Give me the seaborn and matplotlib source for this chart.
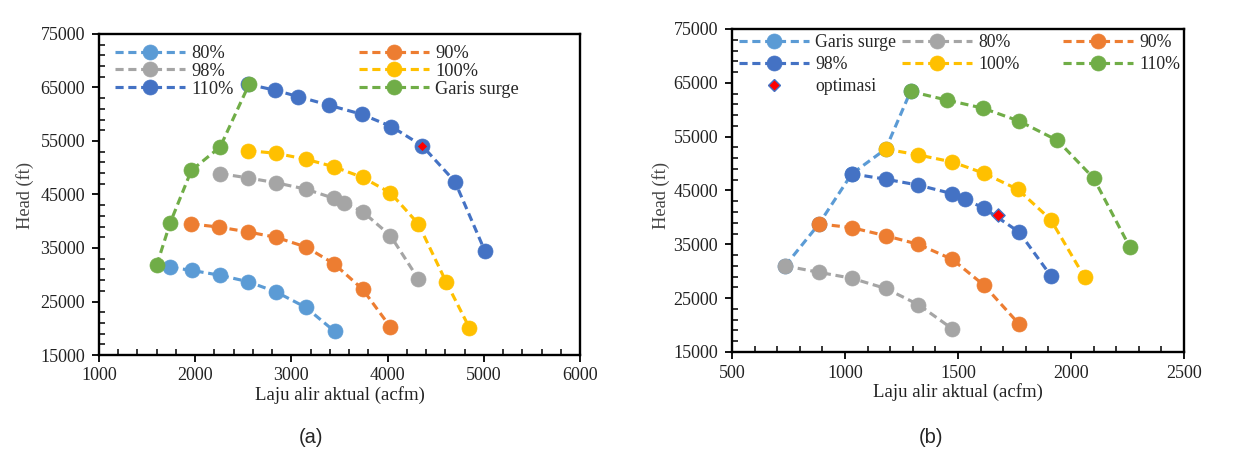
import numpy as np
import pandas as pd
import seaborn as sns
import matplotlib
matplotlib.use("Agg")
import matplotlib.pyplot as plt
from matplotlib.ticker import MultipleLocator, FixedLocator

# ---------------- data: panel (a) ----------------
a_80_x = [1740, 1970, 2260, 2550, 2840, 3150, 3450]
a_80_y = [31400, 30800, 29900, 28700, 26800, 23900, 19400]
a_90_x = [1960, 2250, 2550, 2840, 3150, 3440, 3740, 4030]
a_90_y = [39500, 38900, 38000, 37000, 35200, 32100, 27300, 20200]
a_98_x = [2260, 2550, 2840, 3150, 3440, 3550, 3740, 4030, 4320]
a_98_y = [48900, 48100, 47200, 46000, 44300, 43400, 41800, 37300, 29200]
a_100_x = [2550, 2840, 3150, 3440, 3740, 4030, 4320, 4610, 4850]
a_100_y = [53200, 52700, 51600, 50200, 48200, 45300, 39500, 28600, 20100]
a_110_x = [2550, 2830, 3070, 3390, 3730, 4040, 4360, 4700, 5010]
a_110_y = [65600, 64500, 63300, 61700, 60000, 57700, 54100, 47400, 34500]
a_surge_x = [1600, 1740, 1960, 2260, 2560]
a_surge_y = [31800, 39700, 49500, 53900, 65600]
a_opt_x = [4360]
a_opt_y = [54100]

# ---------------- data: panel (b) ----------------
b_surge_x = [735, 885, 1030, 1180, 1290]
b_surge_y = [31000, 38800, 48100, 52700, 63400]
b_80_x = [735, 885, 1030, 1180, 1325, 1475]
b_80_y = [31000, 29800, 28700, 26800, 23800, 19300]
b_90_x = [885, 1030, 1180, 1325, 1475, 1615, 1770]
b_90_y = [38800, 38100, 36600, 35000, 32200, 27400, 20200]
b_98_x = [1030, 1180, 1325, 1475, 1530, 1615, 1770, 1910]
b_98_y = [48100, 47100, 46000, 44400, 43400, 41700, 37300, 29200]
b_100_x = [1180, 1325, 1475, 1615, 1765, 1910, 2060]
b_100_y = [52700, 51600, 50300, 48200, 45200, 39600, 28900]
b_110_x = [1290, 1450, 1610, 1770, 1940, 2100, 2260]
b_110_y = [63400, 61800, 60300, 57900, 54300, 47300, 34500]
b_opt_x = [1675]
b_opt_y = [40500]

y_ticks = [15000, 25000, 35000, 45000, 55000, 65000, 75000]

C_LBLUE = "#5B9BD5"
C_ORANGE = "#ED7D31"
C_GRAY = "#A5A5A5"
C_YELLOW = "#FFC000"
C_DBLUE = "#4472C4"
C_GREEN = "#70AD47"

sns.set_style("ticks")
plt.rcParams["font.family"] = ["Liberation Serif", "DejaVu Serif"]

W, H = 1255, 461
fig = plt.figure(figsize=(W / 100, H / 100), dpi=100)


def fx(px):
    return px / W


def fy(py):
    return 1 - py / H


axa = fig.add_axes([fx(99), fy(355), fx(580) - fx(99), fy(34) - fy(355)])
axb = fig.add_axes([fx(732), fy(352), fx(1184) - fx(732), fy(29) - fy(352)])

LW = 2.25
MS = 10.8
DASH = (2.6, 1.5)


def series(ax, x, y, color, label):
    sns.lineplot(x=x, y=y, ax=ax, color=color, label=label, sort=False,
                 marker="o", markersize=MS, markeredgecolor=color,
                 markeredgewidth=0.5, linewidth=LW, dashes=False,
                 linestyle=(0, DASH), estimator=None)
    ln = ax.lines[-1]
    ln.set_linestyle((0, DASH))
    return ln


# panel (a)
ha80 = series(axa, a_80_x, a_80_y, C_LBLUE, "80%")
ha90 = series(axa, a_90_x, a_90_y, C_ORANGE, "90%")
ha98 = series(axa, a_98_x, a_98_y, C_GRAY, "98%")
ha100 = series(axa, a_100_x, a_100_y, C_YELLOW, "100%")
ha110 = series(axa, a_110_x, a_110_y, C_DBLUE, "110%")
hasurge = series(axa, a_surge_x, a_surge_y, C_GREEN, "Garis surge")
sns.scatterplot(x=a_opt_x, y=a_opt_y, ax=axa, marker="D", s=22, color="red",
                edgecolor="red", linewidth=0, zorder=5)

# panel (b)
hbsurge = series(axb, b_surge_x, b_surge_y, C_LBLUE, "Garis surge")
hb80 = series(axb, b_80_x, b_80_y, C_GRAY, "80%")
hb90 = series(axb, b_90_x, b_90_y, C_ORANGE, "90%")
hb98 = series(axb, b_98_x, b_98_y, C_DBLUE, "98%")
hb100 = series(axb, b_100_x, b_100_y, C_YELLOW, "100%")
hb110 = series(axb, b_110_x, b_110_y, C_GREEN, "110%")
sns.scatterplot(x=b_opt_x, y=b_opt_y, ax=axb, marker="D", s=45, color="red",
                edgecolor=C_DBLUE, linewidth=1.0, zorder=5)
hbopt = plt.Line2D([], [], linestyle="none", marker="D", markersize=6.5,
                   markerfacecolor="red", markeredgecolor=C_DBLUE,
                   markeredgewidth=1.0)

for ax in (axa, axb):
    lg = ax.get_legend()
    if lg is not None:
        lg.remove()

# axes styling
axa.set_xlim(1000, 6000)
axa.xaxis.set_major_locator(MultipleLocator(1000))
axa.xaxis.set_minor_locator(MultipleLocator(200))
axb.set_xlim(500, 2500)
axb.xaxis.set_major_locator(MultipleLocator(500))
axb.xaxis.set_minor_locator(MultipleLocator(100))
for ax in (axa, axb):
    ax.set_ylim(15000, 75000)
    ax.yaxis.set_major_locator(FixedLocator(y_ticks))
    ax.yaxis.set_minor_locator(MultipleLocator(2000, offset=1000))
    for s in ax.spines.values():
        s.set_visible(True)
        s.set_linewidth(1.7)
        s.set_color("black")
    ax.tick_params(which="major", direction="out", length=5, width=1.3,
                   labelsize=13, colors="#222222")
    ax.tick_params(axis="x", which="major", pad=4)
    ax.tick_params(axis="y", which="major", pad=5)
    ax.tick_params(which="minor", direction="in", length=4, width=1.1,
                   colors="black")
    ax.tick_params(which="both", color="black")
    ax.set_xlabel("Laju alir aktual (acfm)", fontsize=13.5, labelpad=1,
                  color="#222222")
    ax.set_ylabel("")
    ax.grid(False)

fig.text(fx(25), fy(195), "Head (ft)", rotation=90, ha="center", va="center",
         fontsize=13.2, color="#444444")
fig.text(fx(661), fy(195), "Head (ft)", rotation=90, ha="center", va="center",
         fontsize=13.2, color="#444444")

sans = ["Liberation Sans", "DejaVu Sans"]
fig.text(fx(311), fy(437), "(a)", ha="center", va="center", fontsize=14.5,
         family=sans)
fig.text(fx(931), fy(437), "(b)", ha="center", va="center", fontsize=14.5,
         family=sans)

LEGKW = dict(loc="upper left", bbox_transform=fig.transFigure, frameon=False,
             borderpad=0, borderaxespad=0, handletextpad=0.35, numpoints=1)

la1 = axa.legend([ha80, ha98, ha110], ["80%", "98%", "110%"],
                 bbox_to_anchor=(fx(115), fy(45)), handlelength=3.8,
                 labelspacing=0.05, fontsize=13.2, **LEGKW)
axa.add_artist(la1)
la2 = axa.legend([ha90, ha100, hasurge], ["90%", "100%", "Garis surge"],
                 bbox_to_anchor=(fx(359), fy(45)), handlelength=3.8,
                 labelspacing=0.05, fontsize=13.2, **LEGKW)

lb1 = axb.legend([hbsurge, hb98, hbopt], ["Garis surge", "98%", "optimasi"],
                 bbox_to_anchor=(fx(739), fy(34)), handlelength=3.95,
                 labelspacing=0.28, fontsize=12.8, **LEGKW)
axb.add_artist(lb1)
lb2 = axb.legend([hb80, hb100], ["80%", "100%"],
                 bbox_to_anchor=(fx(902), fy(34)), handlelength=3.95,
                 labelspacing=0.28, fontsize=12.8, **LEGKW)
axb.add_artist(lb2)
lb3 = axb.legend([hb90, hb110], ["90%", "110%"],
                 bbox_to_anchor=(fx(1063), fy(34)), handlelength=3.95,
                 labelspacing=0.28, fontsize=12.8, **LEGKW)

fig.savefig("out.png", dpi=100, facecolor="white")
